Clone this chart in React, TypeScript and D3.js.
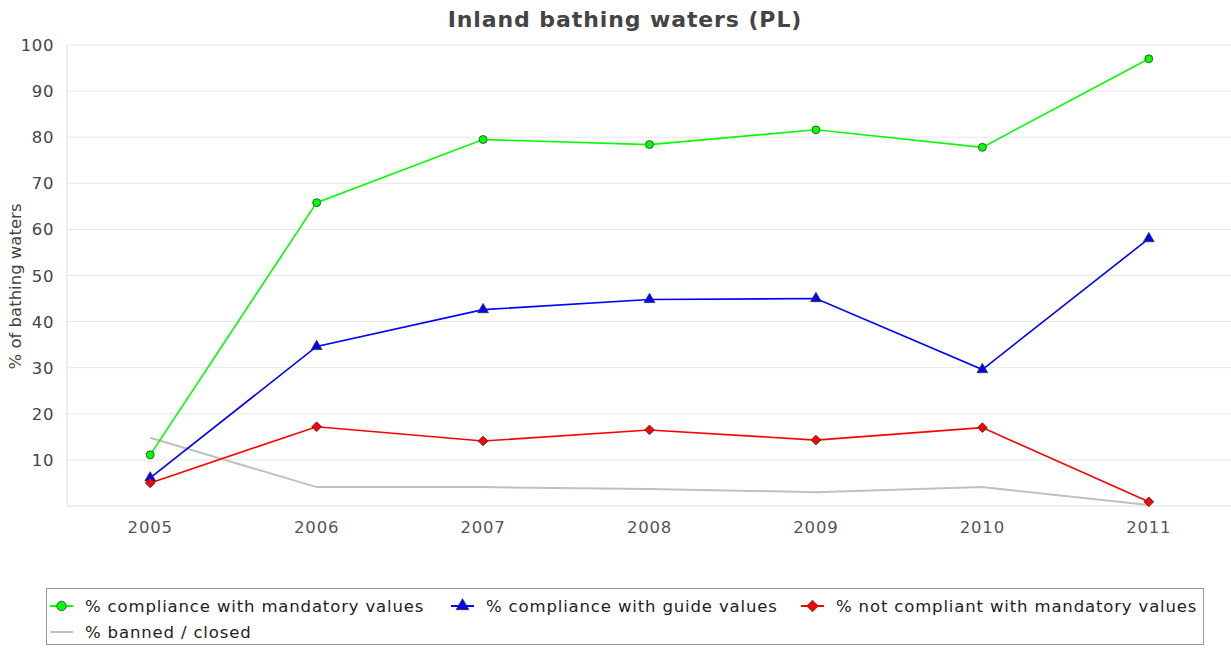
import React, { useEffect, useRef } from 'react'
import * as d3 from 'd3'

const years = ['2005', '2006', '2007', '2008', '2009', '2010', '2011']
const mandatory = [11.1, 65.8, 79.5, 78.4, 81.6, 77.8, 97.0]
const guide = [6.1, 34.6, 42.6, 44.8, 45.0, 29.6, 58.0]
const notCompliant = [5.0, 17.2, 14.1, 16.5, 14.3, 17.0, 0.9]
const banned = [14.8, 4.1, 4.1, 3.7, 3.0, 4.1, 0.2]
const yTicks = [10, 20, 30, 40, 50, 60, 70, 80, 90, 100]

const series = [
  { name: '% compliance with mandatory values', values: mandatory, color: '#00ff00', marker: 'circle' },
  { name: '% compliance with guide values', values: guide, color: '#0000ff', marker: 'triangle' },
  { name: '% not compliant with mandatory values', values: notCompliant, color: '#ff0000', marker: 'diamond' },
  { name: '% banned / closed', values: banned, color: '#c0c0c0', marker: 'none' },
]

const W = 1231
const H = 652
const FONT = 'DejaVu Sans, sans-serif'

function symbolFor(m: string, size: number) {
  if (m === 'circle') return d3.symbol().type(d3.symbolCircle).size(size)
  if (m === 'triangle') return d3.symbol().type(d3.symbolTriangle).size(size)
  return d3.symbol().type(d3.symbolSquare).size(size * 0.95)
}
const rot = (m: string) => (m === 'diamond' ? ' rotate(45)' : '')

export default function App() {
  const ref = useRef<SVGSVGElement>(null)

  useEffect(() => {
    const svg = d3.select(ref.current)
    svg.selectAll('*').remove()

    const left = 67, right = 1232, top = 45, bottom = 506
    const x = d3.scalePoint().domain(years).range([left, right]).padding(0.5)
    const y = d3.scaleLinear().domain([0, 100]).range([bottom, top])

    svg.append('text')
      .attr('x', 625).attr('y', 27)
      .attr('text-anchor', 'middle')
      .attr('font-family', FONT).attr('font-weight', 'bold').attr('font-size', 22)
      .attr('fill', '#444').attr('letter-spacing', 0.9)
      .text('Inland bathing waters (PL)')

    // grid
    svg.append('g').selectAll('line').data(yTicks).enter().append('line')
      .attr('x1', left).attr('x2', W).attr('y1', d => y(d)).attr('y2', d => y(d))
      .attr('stroke', '#e6e6e6').attr('stroke-width', 1)

    svg.append('line').attr('x1', left).attr('x2', left).attr('y1', top).attr('y2', bottom)
      .attr('stroke', '#dddddd')
    svg.append('line').attr('x1', left).attr('x2', W).attr('y1', bottom).attr('y2', bottom)
      .attr('stroke', '#dddddd')

    svg.append('g').selectAll('text').data(yTicks).enter().append('text')
      .attr('x', left - 13).attr('y', d => y(d) + 6)
      .attr('text-anchor', 'end')
      .attr('font-family', FONT).attr('font-size', 16.5).attr('fill', '#444')
      .attr('letter-spacing', 0.6)
      .text(d => d)

    svg.append('g').selectAll('text').data(years).enter().append('text')
      .attr('x', d => x(d)!).attr('y', bottom + 27)
      .attr('text-anchor', 'middle')
      .attr('font-family', FONT).attr('font-size', 16.5).attr('fill', '#555')
      .attr('letter-spacing', 0.8)
      .text(d => d)

    svg.append('text')
      .attr('transform', `translate(21,${(top + bottom) / 2 + 11}) rotate(-90)`)
      .attr('text-anchor', 'middle')
      .attr('font-family', FONT).attr('font-size', 16.5).attr('fill', '#444')
      .text('% of bathing waters')

    const line = d3.line<number>().x((d, i) => x(years[i])!).y(d => y(d))

    const order = [3, 0, 1, 2]
    order.forEach(si => {
      const s = series[si]
      svg.append('path').datum(s.values)
        .attr('d', line).attr('fill', 'none')
        .attr('stroke', s.color).attr('stroke-width', si === 3 ? 2 : 1.6)
    })
    order.forEach(si => {
      const s = series[si]
      if (s.marker === 'none') return
      svg.append('g').selectAll('path').data(s.values).enter().append('path')
        .attr('d', symbolFor(s.marker, 50)()!)
        .attr('transform', (d, i) => `translate(${x(years[i])},${y(d)})${rot(s.marker)}`)
        .attr('fill', s.color).attr('stroke', '#333').attr('stroke-width', 0.8)
    })

    // legend
    const lg = svg.append('g')
    lg.append('rect').attr('x', 46.5).attr('y', 588.5).attr('width', 1157).attr('height', 56)
      .attr('fill', 'white').attr('stroke', '#999')
    const pos = [
      { x: 50, y: 606 }, { x: 451, y: 606 }, { x: 801, y: 606 }, { x: 50, y: 632 },
    ]
    series.forEach((s, i) => {
      const p = pos[i]
      lg.append('line').attr('x1', p.x).attr('x2', p.x + 23).attr('y1', p.y).attr('y2', p.y)
        .attr('stroke', s.color).attr('stroke-width', 2)
      if (s.marker !== 'none') {
        lg.append('path').attr('d', symbolFor(s.marker, 70)()!)
          .attr('transform', `translate(${p.x + 11.5},${p.y})${rot(s.marker)}`)
          .attr('fill', s.color).attr('stroke', '#333').attr('stroke-width', 0.8)
      }
      lg.append('text').attr('x', p.x + 35).attr('y', p.y + 6)
        .attr('font-family', FONT).attr('font-size', 16.5).attr('fill', '#222')
        .attr('letter-spacing', 0.85)
        .text(s.name)
    })
  }, [])

  return <svg ref={ref} width={W} height={H} style={{ position: 'absolute', left: 0, top: 0 }} />
}
